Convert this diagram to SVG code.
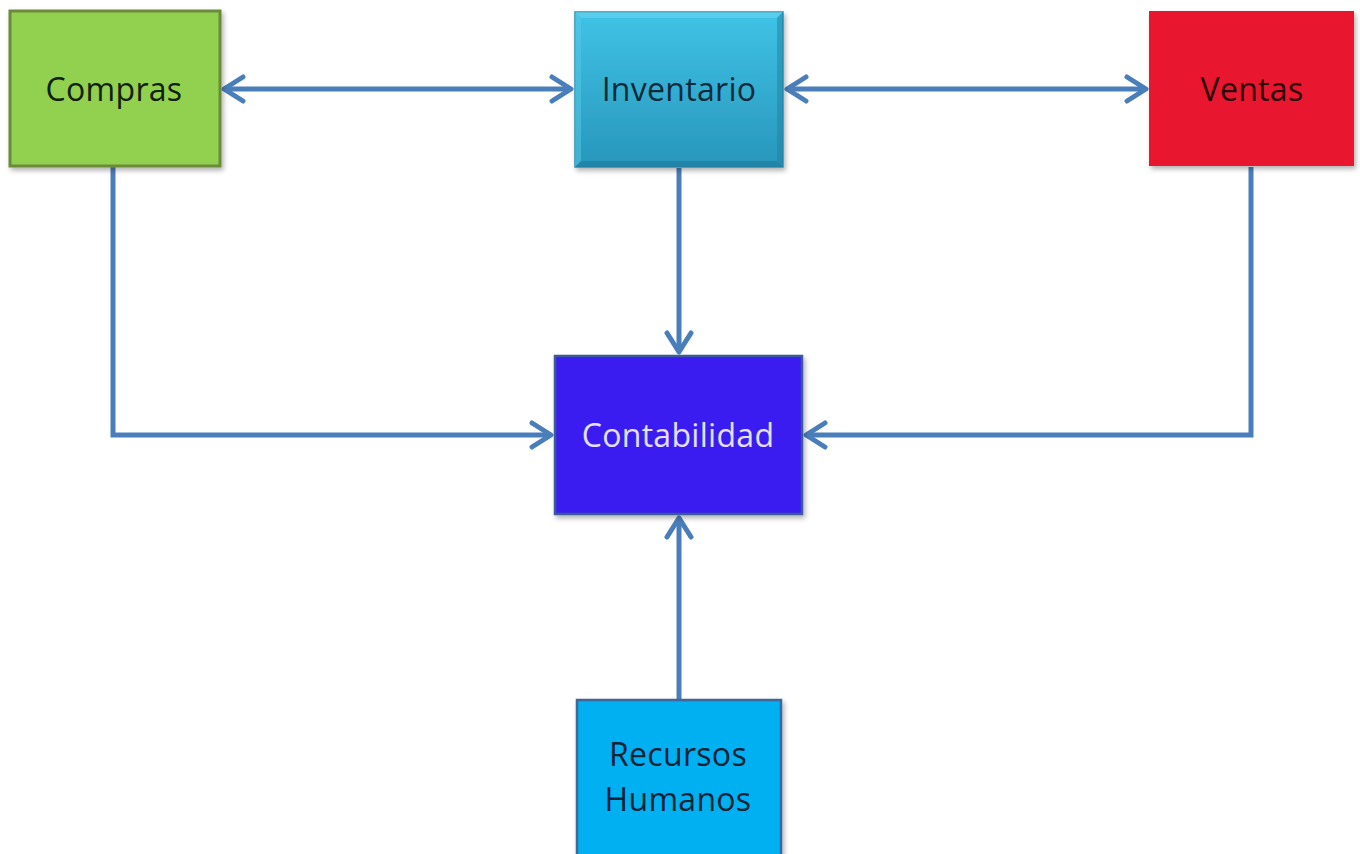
<svg xmlns="http://www.w3.org/2000/svg" width="1360" height="854" viewBox="0 0 1360 854">
<defs>
  <linearGradient id="gInv" x1="0" y1="0" x2="0" y2="1">
    <stop offset="0" stop-color="#3fc3e6"/>
    <stop offset="1" stop-color="#2896bb"/>
  </linearGradient>
  <filter id="sh" x="-10%" y="-10%" width="125%" height="125%">
    <feDropShadow dx="2" dy="3" stdDeviation="2.5" flood-color="#000" flood-opacity="0.3"/>
  </filter>
  <marker id="ah" viewBox="0 0 30 30" refX="24" refY="15" markerWidth="30" markerHeight="30" markerUnits="userSpaceOnUse" orient="auto-start-reverse">
    <path d="M5,3 L24,15 L5,27" fill="none" stroke="#4a7ebb" stroke-width="5" stroke-linecap="round" stroke-linejoin="round"/>
  </marker>
</defs>
<style>
  .lbl{font-family:"Open Sans","Liberation Sans",sans-serif;font-size:32px;letter-spacing:0.3px;text-anchor:middle;}
  .conn{fill:none;stroke:#4a7ebb;stroke-width:5;stroke-linejoin:miter;}
</style>
<rect width="1360" height="854" fill="#ffffff"/>
<g id="connectors">
  <path class="conn" d="M224,89 L571,89" marker-start="url(#ah)" marker-end="url(#ah)"/>
  <path class="conn" d="M787,89 L1146,89" marker-start="url(#ah)" marker-end="url(#ah)"/>
  <path class="conn" d="M679,168 L679,352" marker-end="url(#ah)"/>
  <path class="conn" d="M113,167 L113,435 L551,435" marker-end="url(#ah)"/>
  <path class="conn" d="M1251,167 L1251,435 L806,435" marker-end="url(#ah)"/>
  <path class="conn" d="M679,699 L679,518" marker-end="url(#ah)"/>
</g>
<g id="compras">
  <rect x="10" y="11" width="210" height="155" fill="#92d050" stroke="#6b8c38" stroke-width="3" filter="url(#sh)"/>
  <text class="lbl" x="114" y="101" fill="#10200a">Compras</text>
</g>
<g id="inventario">
  <rect x="575" y="12" width="208" height="155" fill="url(#gInv)" stroke="#2a8fb0" stroke-width="1.5" filter="url(#sh)"/>
  <path d="M575,12 L783,12 L777,18 L581,18 Z" fill="#6ad4ee" opacity="0.6"/>
  <path d="M783,12 L783,167 L777,161 L777,18 Z" fill="#1f7fa2" opacity="0.5"/>
  <path d="M575,167 L783,167 L777,161 L581,161 Z" fill="#1a7394" opacity="0.5"/>
  <path d="M575,12 L575,167 L581,161 L581,18 Z" fill="#55cbe9" opacity="0.5"/>
  <text class="lbl" x="679" y="101" fill="#0d2a3a">Inventario</text>
</g>
<g id="ventas">
  <rect x="1149" y="11" width="205" height="155" fill="#e8162f" filter="url(#sh)"/>
  <text class="lbl" x="1252" y="101" fill="#2a0508">Ventas</text>
</g>
<g id="contabilidad">
  <rect x="555" y="356" width="247" height="158" fill="#3a1df0" stroke="#3b5a9a" stroke-width="2.5" filter="url(#sh)"/>
  <text class="lbl" x="678" y="447" fill="#e6e0ff">Contabilidad</text>
</g>
<g id="recursos">
  <rect x="577" y="700" width="204" height="170" fill="#00b0f0" stroke="#3c6897" stroke-width="2.5" filter="url(#sh)"/>
  <text class="lbl" x="678" y="766" fill="#0a2235">Recursos</text>
  <text class="lbl" x="678" y="811" fill="#0a2235">Humanos</text>
</g>
</svg>
